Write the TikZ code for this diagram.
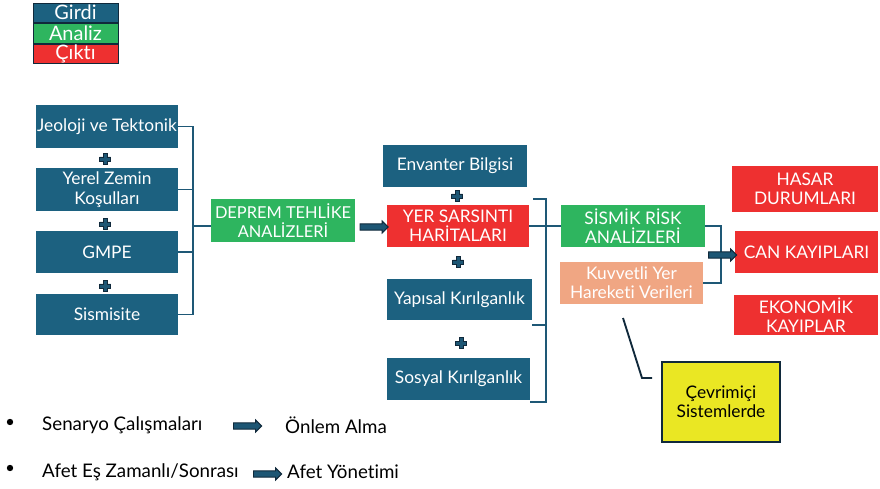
\documentclass[tikz,border=0pt]{standalone}
\usepackage{fontspec}
\setmainfont{Lato}[Ligatures=NoCommon]
\usetikzlibrary{shapes.arrows}

\definecolor{girdi}{HTML}{1C6180}
\definecolor{analiz}{HTML}{2EB55F}
\definecolor{cikti}{HTML}{EE3030}
\definecolor{somon}{HTML}{F0A683}
\definecolor{sari}{HTML}{EAE723}
\definecolor{cizgi}{HTML}{1E5876}
\definecolor{koyu}{HTML}{10293B}
\definecolor{okdolgu}{HTML}{1D5674}

\begin{document}
\begin{tikzpicture}[x=0.03cm,y=-0.03cm]
    \tikzstyle{every node}+=[inner sep=0pt, font=\fontsize{14.8}{16.5}\selectfont, align=center]
    \tikzstyle{sz}=[minimum width=#1*0.03cm]
    \tikzstyle{hg}=[minimum height=#1*0.03cm]
    \tikzstyle{mavi}=[fill=girdi, text=white]
    \tikzstyle{yesil}=[fill=analiz, text=white]
    \tikzstyle{kirmizi}=[fill=cikti, text=white]
    \tikzstyle{parantez}=[draw=cizgi, line width=1.3pt]
    \tikzstyle{blokok}=[single arrow, fill=okdolgu, draw=koyu, line width=0.8pt, inner sep=2.3pt,
        single arrow head extend=2.4pt, single arrow head indent=0pt, minimum height=24pt]
    \tikzstyle{metin}=[anchor=west, text=black, font=\fontsize{16}{18}\selectfont]
    \tikzstyle{lejant}=[sz=85, draw=koyu, line width=0.8pt, font=\fontsize{17}{18}\selectfont]
    \tikzset{arti/.pic={
        \filldraw[fill=okdolgu, draw=koyu, line width=0.5pt] (-5.5,-2) -- (-2,-2) -- (-2,-5.5) -- (2,-5.5) -- (2,-2) -- (5.5,-2)
            -- (5.5,2) -- (2,2) -- (2,5.5) -- (-2,5.5) -- (-2,2) -- (-5.5,2) -- cycle;}}
    \useasboundingbox (0,0) rectangle (880,489);

    % legend
    \node [mavi, lejant, hg=19] (lgirdi) at (75.5,12.5) {Girdi};
    \node [yesil, lejant, hg=20] (lanaliz) at (75.5,33) {Analiz};
    \node [kirmizi, lejant, hg=19] (lcikti) at (75.5,53.5) {Çıktı};

    % girdiler
    \node [mavi, sz=142, hg=43] (jeo) at (107,126.5) {Jeoloji ve Tektonik};
    \node [mavi, sz=142, hg=43] (yerel) at (107,189.5) {Yerel Zemin\\Koşulları};
    \node [mavi, sz=142, hg=42] (gmpe) at (107,252) {GMPE};
    \node [mavi, sz=142, hg=41] (sism) at (107,314.5) {Sismisite};
    \pic at (105,159) {arti};
    \pic at (105,224) {arti};
    \pic at (105,286) {arti};

    \node [yesil, sz=144, hg=43, font=\fontsize{14}{16.5}\selectfont] (deprem) at (283,220.5) {DEPREM TEHLİKE\\ANALİZLERİ};
    \coordinate (b1) at (193,226);
    \draw [parantez] (jeo.east) -| (b1) |- (sism.east);
    \draw [parantez] (yerel.east) -- (yerel.east -| b1);
    \draw [parantez] (gmpe.east) -- (gmpe.east -| b1);
    \draw [parantez] (b1) -- (b1 -| deprem.west);

    % orta sutun
    \node [mavi, sz=144, hg=42] (envanter) at (455,166) {Envanter Bilgisi};
    \node [kirmizi, sz=142, hg=42] (yer) at (458,226) {YER SARSINTI\\HARİTALARI};
    \node [mavi, sz=145, hg=41] (yapisal) at (459.5,299.5) {Yapısal Kırılganlık};
    \node [mavi, sz=143, hg=42] (sosyal) at (458.5,379) {Sosyal Kırılganlık};
    \pic at (457,196) {arti};
    \pic at (458,262) {arti};
    \pic at (461,343) {arti};
    \node [blokok] (ok1) at (372.5,227) {};

    \node [yesil, sz=144, hg=42] (sismik) at (633,226) {SİSMİK RİSK\\ANALİZLERİ};
    \node [fill=somon, text=white, sz=143, hg=42] (kuvvetli) at (631.5,283) {Kuvvetli Yer\\Hareketi Verileri};
    \coordinate (b2u) at (533,199);
    \coordinate (b2a) at (530,402);
    \coordinate (b2o) at (532,325);
    \draw [parantez] (b2u) -- (546,199) -- (546,402) -- (b2a);
    \draw [parantez] (b2o) -- (546,325);
    \draw [parantez] (yer.east) -- (sismik.west);

    % ciktilar
    \node [kirmizi, sz=146, hg=46] (hasar) at (805,189) {HASAR\\DURUMLARI};
    \node [kirmizi, sz=143, hg=42] (can) at (806.5,252) {CAN KAYIPLARI};
    \node [kirmizi, sz=144, hg=40] (ekonomik) at (806,315) {EKONOMİK\\KAYIPLAR};
    \coordinate (b3) at (721,255);
    \draw [parantez] (sismik.east) -| (b3) |- (kuvvetli.east);
    \node [blokok] (ok2) at (721,255) {};

    \node [fill=sari, draw=koyu, line width=1.6pt, text=black, sz=118, hg=80] (cevrim) at (721,402) {Çevrimiçi\\Sistemlerde};
    \coordinate (c1) at (623,318);
    \coordinate (c2) at (642,378);
    \coordinate (c3) at (652,378);
    \draw [draw=koyu, line width=1.6pt] (c1) -- (c2) -- (c3);

    % alt yazilar
    \fill [black] (10,422) circle (3.2);
    \fill [black] (10,468) circle (3.2);
    \node [metin] (senaryo) at (42,425) {Senaryo Çalışmaları};
    \node [metin] (onlem) at (285,425) {Önlem Alma};
    \node [metin] (afet) at (42,472) {Afet Eş Zamanlı/Sonrası};
    \node [metin] (yonetim) at (287,472) {Afet Yönetimi};
    \node [blokok] (ok3) at (246,426) {};
    \node [blokok] (ok4) at (266,474) {};
\end{tikzpicture}
\end{document}
